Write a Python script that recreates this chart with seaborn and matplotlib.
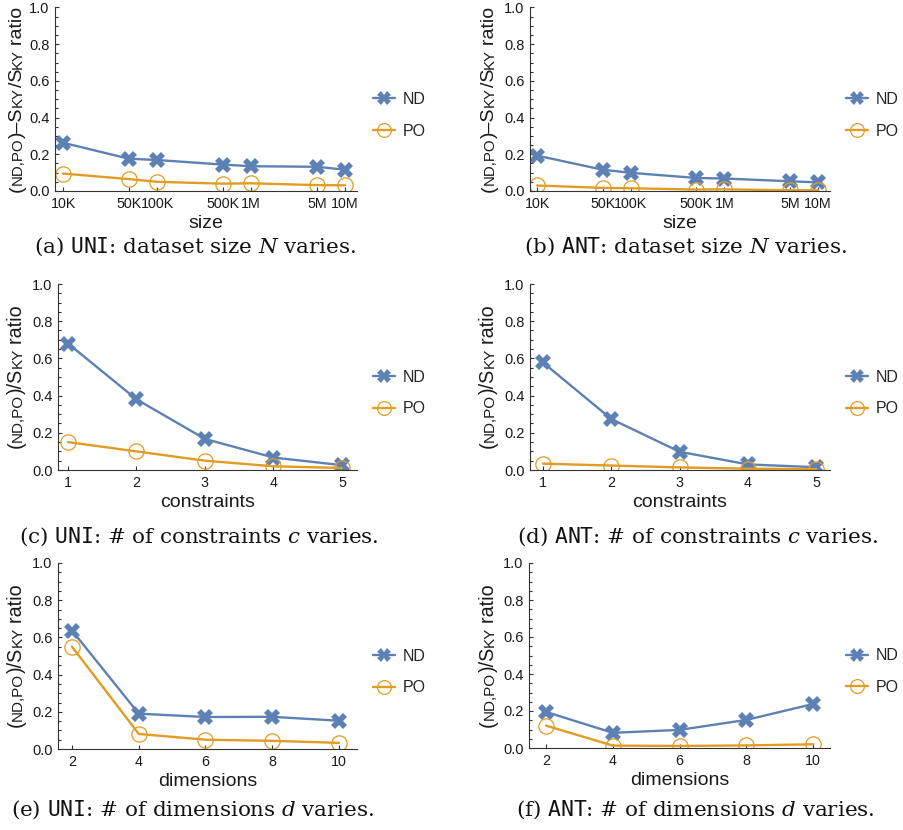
import matplotlib
matplotlib.use("Agg")
import matplotlib.pyplot as plt
import seaborn as sns
from matplotlib.ticker import FixedLocator, MultipleLocator, NullLocator

sns.set_style("ticks")
plt.rcParams["font.family"] = ["Liberation Sans", "DejaVu Sans"]
plt.rcParams["mathtext.fontset"] = "custom"
plt.rcParams["mathtext.rm"] = "DejaVu Serif"
plt.rcParams["mathtext.it"] = "DejaVu Serif:italic"
plt.rcParams["mathtext.tt"] = "DejaVu Sans Mono"

BLUE = "#5E81B5"
ORANGE = "#E19C24"

# ---- data -------------------------------------------------------------
size_values = [1e4, 5e4, 1e5, 5e5, 1e6, 5e6, 1e7]
size_labels = ["10K", "50K", "100K", "500K", "1M", "5M", "10M"]
constraints = [1, 2, 3, 4, 5]
dimensions = [2, 4, 6, 8, 10]

uni_size_nd = [0.263, 0.176, 0.169, 0.144, 0.135, 0.132, 0.116]
uni_size_po = [0.095, 0.065, 0.050, 0.040, 0.042, 0.032, 0.031]
ant_size_nd = [0.193, 0.116, 0.099, 0.071, 0.068, 0.053, 0.047]
ant_size_po = [0.030, 0.017, 0.015, 0.008, 0.009, 0.004, 0.004]

uni_con_nd = [0.68, 0.38, 0.167, 0.067, 0.026]
uni_con_po = [0.15, 0.10, 0.050, 0.020, 0.011]
ant_con_nd = [0.578, 0.274, 0.098, 0.030, 0.015]
ant_con_po = [0.034, 0.024, 0.014, 0.007, 0.005]

uni_dim_nd = [0.637, 0.190, 0.172, 0.173, 0.152]
uni_dim_po = [0.550, 0.081, 0.050, 0.044, 0.033]
ant_dim_nd = [0.195, 0.082, 0.098, 0.152, 0.238]
ant_dim_po = [0.121, 0.013, 0.011, 0.014, 0.020]

captions = [
    r"(a) $\mathtt{UNI}$: dataset size $N$ varies.",
    r"(b) $\mathtt{ANT}$: dataset size $N$ varies.",
    r"(c) $\mathtt{UNI}$: # of constraints $c$ varies.",
    r"(d) $\mathtt{ANT}$: # of constraints $c$ varies.",
    r"(e) $\mathtt{UNI}$: # of dimensions $d$ varies.",
    r"(f) $\mathtt{ANT}$: # of dimensions $d$ varies.",
]

W, H = 904, 830
fig = plt.figure(figsize=(W / 100, H / 100), dpi=100)

# panel geometry in pixels: left, right, top(y=1), bottom(y=0)
panels = [
    dict(box=(55, 357, 7.5, 191), x=size_values, nd=uni_size_nd, po=uni_size_po,
         log=True, xlim=(8.2e3, 1.34e7), xlabel="size", diff=True,
         cap=(195, 247), ylx=15),
    dict(box=(530, 830, 7.5, 191), x=size_values, nd=ant_size_nd, po=ant_size_po,
         log=True, xlim=(8.4e3, 1.34e7), xlabel="size", diff=True,
         cap=(685, 247), ylx=487),
    dict(box=(58, 357, 284, 470), x=constraints, nd=uni_con_nd, po=uni_con_po,
         log=False, xlim=(0.854, 5.22), xlabel="constraints", diff=False,
         cap=(199, 537), ylx=15),
    dict(box=(530, 830, 284, 470), x=constraints, nd=ant_con_nd, po=ant_con_po,
         log=False, xlim=(0.81, 5.2), xlabel="constraints", diff=False,
         cap=(698, 537), ylx=487),
    dict(box=(58, 357, 563, 749), x=dimensions, nd=uni_dim_nd, po=uni_dim_po,
         log=False, xlim=(1.58, 10.54), xlabel="dimensions", diff=False,
         cap=(193, 810), ylx=15),
    dict(box=(529, 830, 563, 748), x=dimensions, nd=ant_dim_nd, po=ant_dim_po,
         log=False, xlim=(1.49, 10.5), xlabel="dimensions", diff=False,
         cap=(695, 810), ylx=487),
]

renderer = fig.canvas.get_renderer()


def smallcaps_ylabel(x_px, yc_px, pieces, big, small):
    """Vertical label built from pieces, small pieces in reduced caps."""
    items = []
    for s, sm in pieces:
        t = fig.text(0, 0, s, fontsize=small if sm else big, rotation=90,
                     rotation_mode="anchor", ha="left", va="baseline",
                     color="#1a1a1a")
        items.append((t, t.get_window_extent(renderer).height))
    total = sum(h for _, h in items)
    y = (H - yc_px) - total / 2
    for t, h in items:
        t.set_position((x_px / W, y / H))
        y += h


for i, p in enumerate(panels):
    l, r, t, b = p["box"]
    ax = fig.add_axes([l / W, 1 - b / H, (r - l) / W, (b - t) / H])
    sns.lineplot(x=p["x"], y=p["nd"], ax=ax, color=BLUE, lw=1.7, marker="X",
                 markersize=11, markeredgewidth=0, markerfacecolor=BLUE,
                 label="ND", sort=False)
    sns.lineplot(x=p["x"], y=p["po"], ax=ax, color=ORANGE, lw=1.7, marker="o",
                 markersize=11, markerfacecolor="none", markeredgecolor=ORANGE,
                 markeredgewidth=0.9, label="PO", sort=False)
    if p["log"]:
        ax.set_xscale("log")
        ax.xaxis.set_major_locator(FixedLocator(size_values))
        ax.xaxis.set_minor_locator(NullLocator())
        ax.set_xticklabels(size_labels)
    else:
        ax.xaxis.set_major_locator(FixedLocator(p["x"]))
    ax.set_xlim(*p["xlim"])
    ax.set_ylim(0, 1)
    ax.yaxis.set_major_locator(MultipleLocator(0.2))
    ax.yaxis.set_minor_locator(MultipleLocator(0.05))
    ax.set_yticklabels([f"{v:.1f}" for v in ax.get_yticks()])
    sns.despine(ax=ax)
    for s in ("left", "bottom"):
        ax.spines[s].set_color("#333333")
        ax.spines[s].set_linewidth(0.8)
    ax.tick_params(which="both", direction="in", color="#333333", width=0.8,
                   labelsize=10.5, labelcolor="#1a1a1a")
    ax.tick_params(which="major", length=3, pad=4)
    ax.tick_params(which="minor", length=1.8)
    ax.tick_params(axis="x", labelsize=10.3)
    ax.set_xlabel(p["xlabel"], fontsize=14, labelpad=3.5, color="#1a1a1a")
    ax.set_ylabel("")

    ax.legend(loc="center left", bbox_to_anchor=((r + 16) / W, 1 - ((t + b) / 2 + 16) / H),
              bbox_transform=fig.transFigure, frameon=False, fontsize=11.5,
              borderpad=0, borderaxespad=0, handlelength=1.4, handletextpad=0.45,
              labelspacing=1.05, markerscale=0.9)

    if p["diff"]:
        pieces = [("(", False), ("ND,PO", True), (")\u2013S", False), ("KY", True),
                  ("/S", False), ("KY", True), ("\u2009ratio", False)]
        smallcaps_ylabel(p["ylx"] + 7, (t + b) / 2, pieces, 14, 10.8)
    else:
        pieces = [("(", False), ("ND,PO", True), (")/S", False), ("KY", True),
                  ("\u2009ratio", False)]
        smallcaps_ylabel(p["ylx"] + 7, (t + b) / 2, pieces, 14.2, 11)

    fig.text(p["cap"][0] / W, 1 - p["cap"][1] / H, captions[i], ha="center",
             va="center", fontsize=15.4, family="DejaVu Serif", color="#111111")

fig.savefig("out.png", dpi=100)
